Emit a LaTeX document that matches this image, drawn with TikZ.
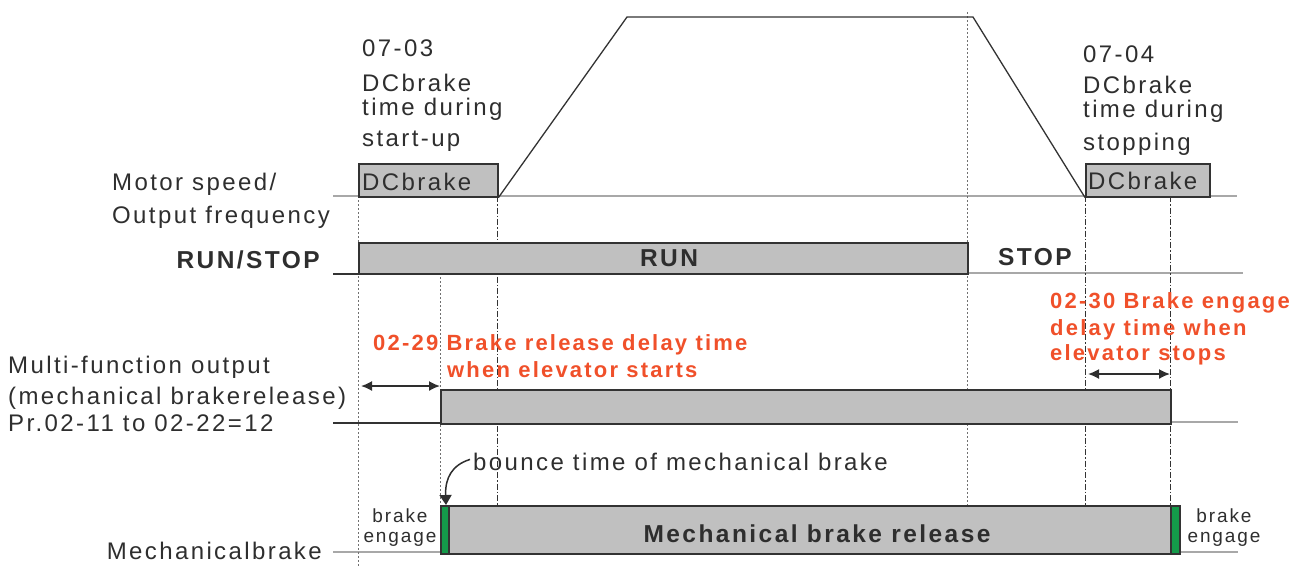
\documentclass[tikz,border=0pt]{standalone}
\usepackage{fontspec}
\setmainfont{Liberation Sans}[LetterSpace=10]
\usetikzlibrary{arrows.meta}
\definecolor{txt}{HTML}{2E2E2E}
\definecolor{redt}{HTML}{F0502A}
\definecolor{gbar}{HTML}{C0C0C0}
\definecolor{gline}{HTML}{A8A8A8}
\definecolor{grn}{HTML}{149A4A}
\definecolor{edge}{HTML}{333333}
\begin{document}
\begin{tikzpicture}[x=1pt,y=-1pt,
  lbl/.style={inner sep=0pt, text=txt, font=\fontsize{24}{28}\selectfont, anchor=base west},
  boldlbl/.style={inner sep=0pt, text=txt, font=\fontsize{24.5}{28}\selectfont\bfseries},
  redlbl/.style={inner sep=0pt, text=redt, font=\fontsize{22}{26}\selectfont\bfseries, anchor=base west},
  small/.style={inner sep=0pt, text=txt, font=\fontsize{19}{22}\selectfont, anchor=base},
  barbox/.style={draw=edge, line width=1.5pt, fill=gbar, inner sep=0pt, anchor=north west},
  greenbox/.style={draw=edge, line width=1.5pt, fill=grn, inner sep=0pt, anchor=north west},
  base/.style={draw=gline, line width=2.5pt},
  lowline/.style={draw=edge, line width=1.5pt},
  ramp/.style={draw=edge, line width=1.3pt},
  dotg/.style={draw=edge!70, line width=0.9pt, dash pattern=on 1.5pt off 2.5pt},
  dashdotg/.style={draw=edge, line width=1pt, dash pattern=on 6pt off 2pt on 1.5pt off 2pt},
  dblarrow/.style={draw=txt, line width=1.6pt, {Latex[length=11pt,width=10pt]}-{Latex[length=11pt,width=10pt]}},
  curvarrow/.style={draw=txt, line width=1.5pt, -{Triangle[length=10pt,width=12pt]}}
]
\useasboundingbox (0,0) rectangle (1294,566);

% base lines
\draw[base] (333,196) -- (1237,196);
\draw[base] (967,273) -- (1243,273);
\draw[base] (1170,422) -- (1238,422);
\draw[base] (333,552) -- (1238,552);
\draw[lowline] (333,274) -- (358,274);
\draw[lowline] (333,423) -- (440,423);

% guide lines
\draw[dotg] (358,196) -- (358,566);
\draw[dotg] (440,273) -- (440,505);
\draw[dashdotg] (497,196) -- (497,505);
\draw[dotg] (967,12) -- (967,505);
\draw[dashdotg] (1085,196) -- (1085,505);
\draw[dashdotg] (1170,196) -- (1170,505);

% motor speed
\node[barbox, minimum width=139pt, minimum height=33pt] (dc1) at (358,163) {};
\node[barbox, minimum width=124pt, minimum height=33pt] (dc2) at (1085,163) {};
\coordinate (top1) at (627,17);
\coordinate (top2) at (973,17);
\draw[ramp] (dc1.south east) -- (top1) -- (top2) -- (dc2.south west);
\node[lbl] (dct1) at (362,190) {DCbrake};
\node[lbl] (dct2) at (1088,189) {DCbrake};

\node[lbl] (a1) at (362,56) {07-03};
\node[lbl] (a2) at (362,91) {DCbrake};
\node[lbl] (a3) at (362,115) {time during};
\node[lbl] (a4) at (362,146) {start-up};
\node[lbl] (b1) at (1083,62) {07-04};
\node[lbl] (b2) at (1083,93) {DCbrake};
\node[lbl] (b3) at (1083,117) {time during};
\node[lbl] (b4) at (1083,150) {stopping};

\node[lbl] (ms1) at (112,190) {Motor speed/};
\node[lbl] (ms2) at (112,223) {Output frequency};

% run/stop
\node[boldlbl, anchor=base east] (rs) at (320,268) {RUN/STOP};
\node[barbox, minimum width=609pt, minimum height=31pt] (runbar) at (358,242) {};
\node[boldlbl, anchor=base] (run) at (669,266) {RUN};
\node[boldlbl, anchor=base] (stop) at (1035,265) {STOP};

% multi-function output
\node[lbl] (m1) at (8,373) {Multi-function output};
\node[lbl] (m2) at (8,404) {(mechanical brakerelease)};
\node[lbl] (m3) at (8,431) {Pr.02-11 to 02-22=12};
\node[barbox, minimum width=730pt, minimum height=34pt] (mfbar) at (440,389) {};
\coordinate (arl) at (361,386);
\draw[dblarrow] (arl) -- (mfbar.north west |- arl);
\coordinate (arr1) at (1088,374);
\coordinate (arr2) at (1170,374);
\draw[dblarrow] (arr1) -- (arr2);
\node[redlbl] (r1) at (373,350) {02-29 Brake release delay time};
\node[redlbl] (r2) at (447,377) {when elevator starts};
\node[redlbl] (r3) at (1050,308) {02-30 Brake engage};
\node[redlbl] (r4) at (1050,335) {delay time when};
\node[redlbl] (r5) at (1050,360) {elevator stops};

% mechanical brake
\node[lbl, anchor=base east] (mb) at (322,559) {Mechanicalbrake};
\node[greenbox, minimum width=8pt, minimum height=48pt] (g1) at (440,505) {};
\node[barbox, minimum width=722pt, minimum height=48pt] (mbbar) at (448,505) {};
\node[greenbox, minimum width=9pt, minimum height=48pt] (g2) at (1170,505) {};
\node[boldlbl, anchor=base] (mbt) at (817,542) {Mechanical brake release};
\node[small] (be1) at (400,522) {brake};
\node[small] (be2) at (400,542) {engage};
\node[small] (be3) at (1224,522) {brake};
\node[small] (be4) at (1224,542) {engage};
\node[lbl] (bounce) at (473,470) {bounce time of mechanical brake};
\draw[curvarrow] ([xshift=-3pt,yshift=2pt]bounce.west) .. controls (452,465) and (445,478) .. ([xshift=6pt]g1.north west);
\end{tikzpicture}
\end{document}
